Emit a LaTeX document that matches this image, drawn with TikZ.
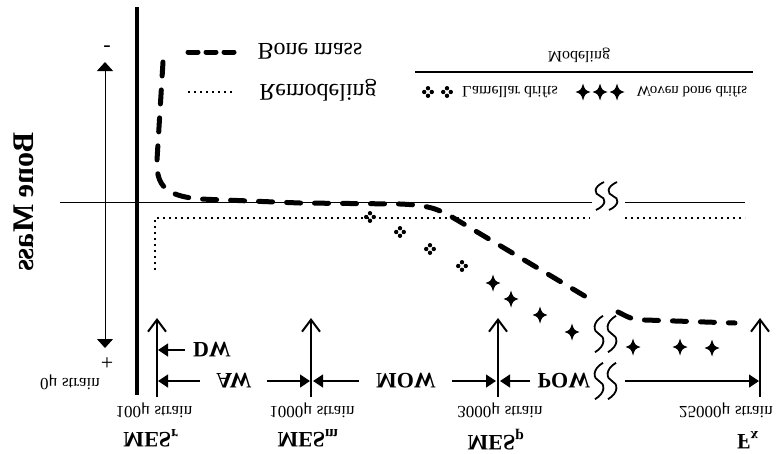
\documentclass[tikz,border=0pt]{standalone}
\usepackage{fontspec}
\setmainfont{Liberation Serif}
\usetikzlibrary{arrows.meta}
\newcommand\myfs[1]{\fontsize{#1}{#1}\selectfont}
\begin{document}
\begin{tikzpicture}[x=1pt,y=1pt,yscale=-1,transform shape,
  txt/.style={inner sep=0pt,anchor=center},
  bmcurve/.style={line width=5pt,dash pattern=on 14pt off 14pt,line cap=round},
  bmleg/.style={line width=5pt,dash pattern=on 10pt off 8pt,line cap=round},
  remod/.style={line width=2pt,dash pattern=on 2pt off 4pt},
  thinln/.style={line width=0.9pt},
  mesarrow/.style={line width=2pt,-{Straight Barb[length=12pt,width=18pt]}},
  harrow/.style={line width=1.3pt,-{Triangle[length=10pt,width=13pt]}},
  wig/.pic={\draw[line width=1.8pt] (4,-14) .. controls (-7,-9) and (-6,-2) .. (0,0) .. controls (6,2) and (7,9) .. (-4,14);},
  lam/.pic={\fill (0,-3.8) circle (2.2) (0,3.8) circle (2.2) (-3.8,0) circle (2.2) (3.8,0) circle (2.2);},
  wov/.pic={\fill (0,-8.5) .. controls (2,-2) .. (7.5,0) .. controls (2,2) .. (0,8.5) .. controls (-2,2) .. (-7.5,0) .. controls (-2,-2) .. (0,-8.5) -- cycle;}
]
\useasboundingbox (0,0) rectangle (776,453);

% main axis
\coordinate (ax-t) at (137,7);
\coordinate (ax-b) at (137,395);
\draw[line width=3.2pt] (ax-t) -- (ax-b);

% horizontal reference line with break
\coordinate (h-l) at (60,202);
\coordinate (h-m1) at (592,202);
\coordinate (h-m2) at (625,202);
\coordinate (h-r) at (745,202);
\draw[thinln] (h-l) -- (h-m1);
\draw[thinln] (h-m2) -- (h-r);
\pic at (600,196) {wig};
\pic at (613,196) {wig};

% remodeling dotted line
\coordinate (r0) at (155,270);
\coordinate (r1) at (155,218);
\coordinate (r2) at (590,218);
\coordinate (r3) at (625,218);
\coordinate (r4) at (745,218);
\draw[remod] (r0) -- (r1) -- (r2);
\draw[remod] (r3) -- (r4);

% bone mass curve
\draw[bmcurve] (163,62) -- (157,160) .. controls (156,186) and (166,196) .. (200,199) -- (300,203) -- (400,204) .. controls (425,205) and (437,208) .. (452,217) -- (588,298);
\draw[bmcurve] (618,312) .. controls (628,317) and (632,320) .. (645,320) -- (735,323);
\pic[yscale=1.3] at (599,334) {wig};
\pic[yscale=1.3] at (612,334) {wig};

% lamellar drifts
\foreach \p in {(370,217),(400,232),(430,249),(462,266)} \pic at \p {lam};
% woven bone drifts
\foreach \p in {(493,283),(511,299),(540,315),(572,332),(633,347),(680,347),(712,348)} \pic at \p {wov};

% bone mass axis
\coordinate (bm-t) at (105,62);
\coordinate (bm-b) at (105,348);
\draw[line width=1pt,{Triangle[length=9pt,width=16pt]}-{Triangle[length=9pt,width=16pt]}] (bm-t) -- (bm-b);
\node[txt,font=\myfs{22}] (minus) at (107,44) {-};
\node[txt,font=\myfs{22}] (plus) at (107,362) {+};
\node[txt,rotate=90,font=\bfseries\myfs{30}] (bmlabel) at (24,202) {Bone Mass};
\node[txt,font=\myfs{17}] (s0) at (70,382) {0μ strain};

% legend
\coordinate (lg1a) at (188,52);
\coordinate (lg1b) at (234,52);
\draw[bmleg] (lg1a) -- (lg1b);
\node[txt,font=\myfs{24}] (lgbm) at (310,51) {Bone mass};
\coordinate (lg2a) at (188,92);
\coordinate (lg2b) at (232,92);
\draw[remod] (lg2a) -- (lg2b);
\node[txt,font=\myfs{24}] (lgrm) at (318,90) {Remodeling};

\node[txt,font=\myfs{16}] (lgmod) at (579,55) {Modeling};
\coordinate (ml-a) at (415,72);
\coordinate (ml-b) at (753,72);
\draw[line width=2.5pt] (ml-a) -- (ml-b);
\pic at (428,92) {lam};
\pic at (447,92) {lam};
\node[txt,font=\myfs{16}] (lglam) at (510,92) {Lamellar drifts};
\pic at (583,92) {wov};
\pic at (600,92) {wov};
\pic at (617,92) {wov};
\node[txt,font=\myfs{15}] (lgwov) at (692,92) {Woven bone drifts};

% MES vertical arrows
\coordinate (mr-b) at (157,397); \coordinate (mr-t) at (157,318);
\coordinate (mm-b) at (311,397); \coordinate (mm-t) at (311,318);
\coordinate (mp-b) at (498,397); \coordinate (mp-t) at (498,318);
\coordinate (fx-b) at (760,397); \coordinate (fx-t) at (760,318);
\draw[mesarrow] (mr-b) -- (mr-t);
\draw[mesarrow] (mm-b) -- (mm-t);
\draw[mesarrow] (mp-b) -- (mp-t);
\draw[mesarrow] (fx-b) -- (fx-t);

% window labels and arrows
\node[txt,font=\bfseries\myfs{22}] (dw) at (212,350) {DW};
\node[txt,font=\bfseries\myfs{22}] (aw) at (234,381) {AW};
\node[txt,font=\bfseries\myfs{22}] (mow) at (406,381) {MOW};
\node[txt,font=\bfseries\myfs{22}] (pow) at (564,381) {POW};
\coordinate (dw-e) at (158,350);
\coordinate (aw-l) at (158,381);
\coordinate (aw-r) at (310,381);
\coordinate (mow-l) at (313,381);
\coordinate (mow-r) at (496,381);
\coordinate (pow-l) at (500,381);
\coordinate (pow-r) at (759,381);
\draw[harrow] ([xshift=-8pt]dw.west) -- (dw-e);
\draw[harrow] ([xshift=-16pt]aw.west) -- (aw-l);
\draw[harrow] ([xshift=15pt]aw.east) -- (aw-r);
\draw[harrow] ([xshift=-17pt]mow.west) -- (mow-l);
\draw[harrow] ([xshift=16pt]mow.east) -- (mow-r);
\draw[harrow] ([xshift=-8pt]pow.west) -- (pow-l);
\draw[harrow] ([xshift=35pt]pow.east) -- (pow-r);
\pic[yscale=1.3] at (599,381) {wig};
\pic[yscale=1.3] at (612,381) {wig};

% strain labels
\node[txt,font=\myfs{17}] (s100) at (154,410) {100μ strain};
\node[txt,font=\myfs{17}] (s1000) at (312,410) {1000μ strain};
\node[txt,font=\myfs{17}] (s3000) at (500,410) {3000μ strain};
\node[txt,font=\myfs{17}] (s25000) at (726,410) {25000μ strain};

% MES labels
\node[txt,font=\bfseries\myfs{22}] (mesr) at (151,438) {MES$_{\mathbf{r}}$};
\node[txt,font=\bfseries\myfs{22}] (mesm) at (308,438) {MES$_{\mathbf{m}}$};
\node[txt,font=\bfseries\myfs{22}] (mesp) at (496,440) {MES$_{\mathbf{p}}$};
\node[txt,font=\bfseries\myfs{22}] (fx) at (748,440) {F$_{\mathbf{x}}$};
\end{tikzpicture}
\end{document}
